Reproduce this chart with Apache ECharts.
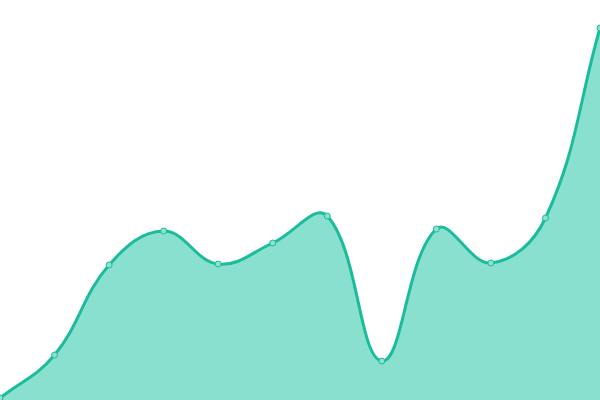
<!DOCTYPE html>
<html><head><meta charset="utf-8">
<script src="https://cdn.jsdelivr.net/npm/echarts@6/dist/echarts.min.js"></script>
<style>html,body{margin:0;padding:0;background:#fff}#c{width:600px;height:400px}</style>
</head><body><div id="c"></div>
<script>
const categories = ['1','2','3','4','5','6','7','8','9','10','11','12'];
const values = [2, 45, 135, 169, 136, 157, 184, 39, 171, 137, 182, 372];
const tension = 0.4;

function splinePath(pts, area) {
  const n = pts.length;
  const cps = pts.map((cur, i) => {
    const prev = pts[Math.max(i - 1, 0)], next = pts[Math.min(i + 1, n - 1)];
    const d01 = Math.hypot(cur[0] - prev[0], cur[1] - prev[1]);
    const d12 = Math.hypot(next[0] - cur[0], next[1] - cur[1]);
    let s01 = d01 / (d01 + d12), s12 = d12 / (d01 + d12);
    if (isNaN(s01)) s01 = 0; if (isNaN(s12)) s12 = 0;
    const fa = tension * s01, fb = tension * s12;
    const clamp = (p) => [Math.min(Math.max(p[0], area.x0), area.x1), Math.min(Math.max(p[1], area.y0), area.y1)];
    return {
      prev: clamp([cur[0] - fa * (next[0] - prev[0]), cur[1] - fa * (next[1] - prev[1])]),
      next: clamp([cur[0] + fb * (next[0] - prev[0]), cur[1] + fb * (next[1] - prev[1])])
    };
  });
  let d = 'M' + pts[0][0] + ' ' + pts[0][1];
  for (let i = 1; i < n; i++) {
    const a = cps[i - 1].next, b = cps[i].prev, p = pts[i];
    d += ' C' + a[0] + ' ' + a[1] + ' ' + b[0] + ' ' + b[1] + ' ' + p[0] + ' ' + p[1];
  }
  return d;
}

const chart = echarts.init(document.getElementById('c'));
chart.setOption({
  animation: false,
  grid: {left: 0, right: 0, top: 0, bottom: 0},
  xAxis: {type: 'category', data: categories, boundaryGap: false, show: false},
  yAxis: {type: 'value', min: 0, max: 400, show: false},
  series: [{
    type: 'custom',
    z: 1,
    data: values.map((v, i) => [i, v]),
    renderItem: function (params, api) {
      if (params.dataIndex !== 0) return null;
      const pts = values.map((v, i) => api.coord([i, v]));
      const base = api.coord([0, 0])[1];
      const cs = params.coordSys;
      const area = {x0: cs.x, x1: cs.x + cs.width, y0: cs.y, y1: cs.y + cs.height};
      const line = splinePath(pts, area);
      const fillD = line + ' L' + pts[pts.length - 1][0] + ' ' + base + ' L' + pts[0][0] + ' ' + base + ' Z';
      return {
        type: 'group',
        children: [
          {type: 'path', shape: {pathData: fillD}, style: {fill: '#8ae0cf', stroke: null}},
          {type: 'path', shape: {pathData: line}, style: {fill: null, stroke: '#1abc9c', lineWidth: 3}}
        ]
      };
    }
  }, {
    type: 'line',
    z: 2,
    data: values,
    symbol: 'circle',
    symbolSize: 6,
    itemStyle: {color: '#8ee0cf', borderColor: '#1abc9c', borderWidth: 1},
    lineStyle: {opacity: 0}
  }]
});
</script></body></html>
